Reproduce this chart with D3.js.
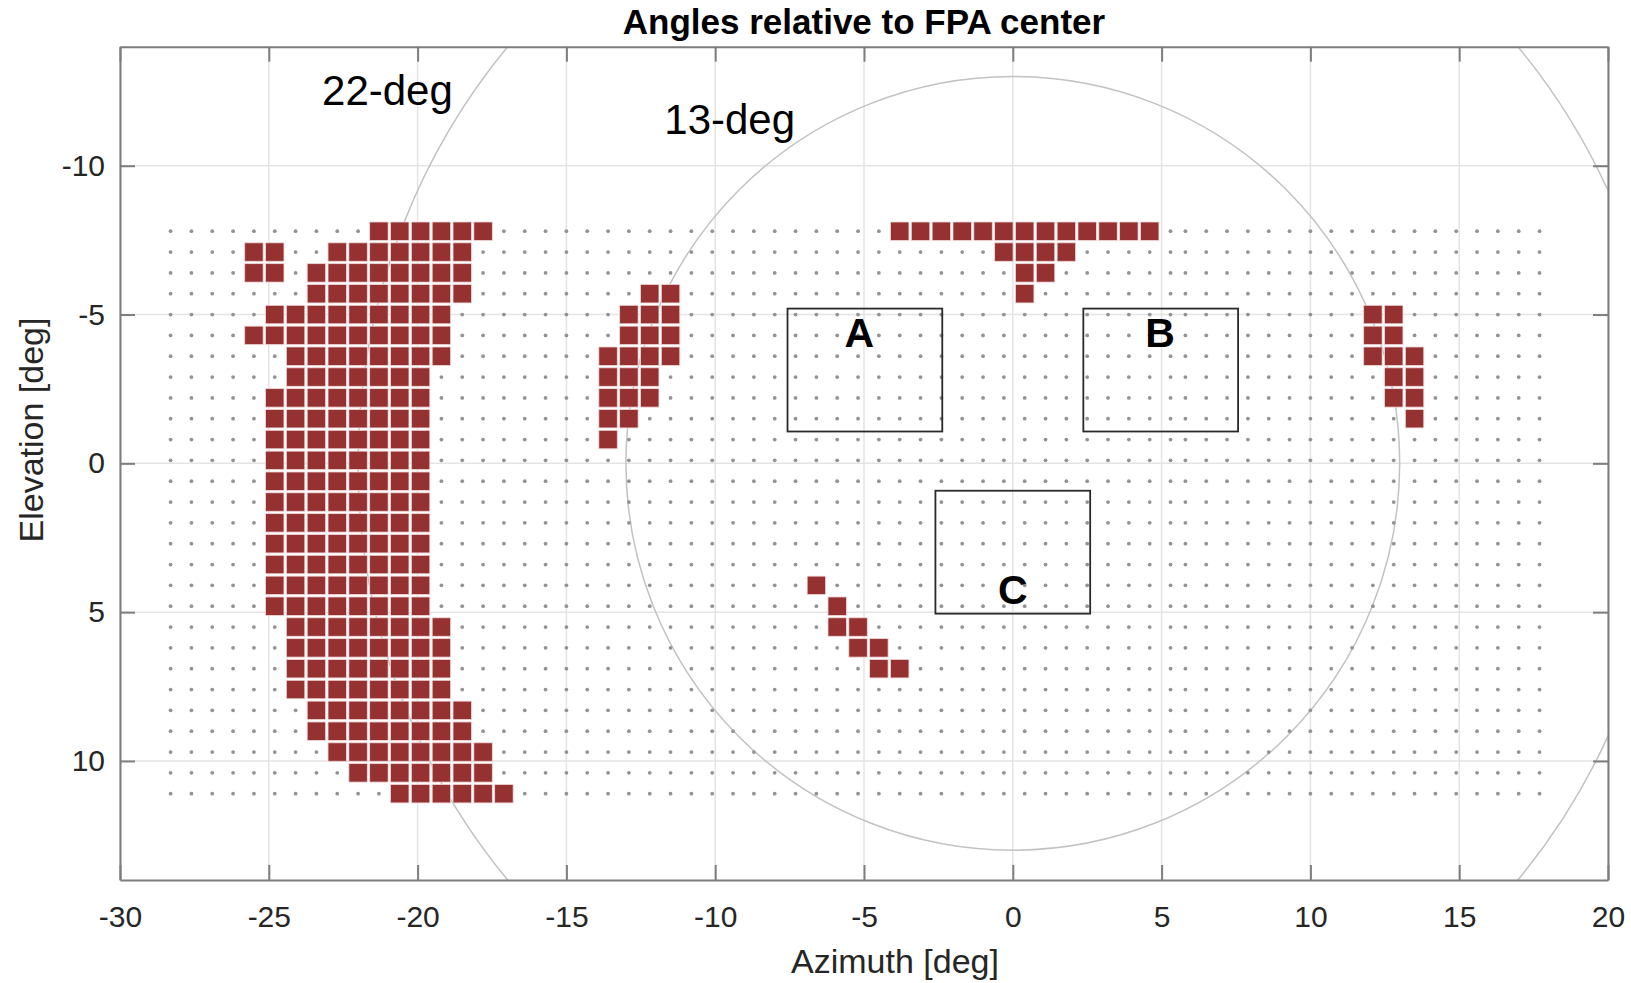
<!DOCTYPE html>
<html><head><meta charset="utf-8">
<script src="https://cdn.jsdelivr.net/npm/d3@7"></script>
<style>
html,body{margin:0;padding:0;background:#fff;}
svg{display:block;font-family:"Liberation Sans",Arial,Helvetica,sans-serif;}
</style></head><body>
<svg id="chart" width="1631" height="983"></svg>
<script>
// ---- data ----
const azimuthColumns = [
  -28.3,-27.6,-26.9,-26.2,-25.5,-24.8,-24.1,-23.4,-22.7,-22.0,-21.3,-20.6,-19.9,-19.2,-18.5,-17.8,
  -17.1,-16.4,-15.7,-15.0,-14.3,-13.6,-12.9,-12.2,-11.5,-10.8,-10.1,-9.4,-8.7,-8.0,-7.3,-6.6,
  -5.9,-5.2,-4.5,-3.8,-3.1,-2.4,-1.7,-1.0,-0.3,0.4,1.1,1.8,2.5,3.2,3.9,4.6,5.3,
  5.8,6.5,7.2,7.9,8.6,9.3,10.0,10.7,11.4,12.1,12.8,13.5,14.2,14.9,15.6,16.3,17.0,17.7
];
const elevationRows = [
  -7.8,-7.1,-6.4,-5.7,-5.0,-4.3,-3.6,-2.9,-2.2,-1.5,-0.8,-0.1,0.6,1.3,
  2.0,2.7,3.4,4.1,4.8,5.5,6.2,6.9,7.6,8.3,9.0,9.7,10.4,11.1
];
// hit runs: [row index, first column index, last column index]
const hitsWest = [
  [0,10,15],[1,4,5],[1,8,14],[2,4,5],[2,7,14],[3,7,14],[4,5,13],[5,4,13],[6,6,13],[7,6,12],
  [8,5,12],[9,5,12],[10,5,12],[11,5,12],[12,5,12],[13,5,12],[14,5,12],[15,5,12],[16,5,12],
  [17,5,12],[18,5,12],[19,6,13],[20,6,13],[21,6,13],[22,6,13],[23,7,14],[24,7,14],
  [25,8,15],[26,9,15],[27,11,16]
];
const hitsMidWest = [[3,23,24],[4,22,24],[5,22,24],[6,21,24],[7,21,23],[8,21,23],[9,21,22],[10,21,21]];
const hitsTop = [[0,35,47],[1,40,43],[2,41,42],[3,41,41]];
const hitsDiagonal = [[17,31,31],[18,32,32],[19,32,33],[20,33,34],[21,34,35]];
const hitsEast = [[4,58,59],[5,58,59],[6,58,60],[7,59,60],[8,59,60],[9,60,60]];

const xTicks = [-30,-25,-20,-15,-10,-5,0,5,10,15,20];
const yTicks = [-10,-5,0,5,10];

const circleRadii = [13, 22];
const circleLabels = ["13-deg", "22-deg"];
const circleLabelAz = [-11.71, -23.21];
const circleLabelEl = [-11.08, -12.04];

const boxNames = ["A", "B", "C"];
const boxAzMin = [-7.57, 2.37, -2.6];
const boxAzMax = [-2.37, 7.57, 2.6];
const boxElMin = [-5.2, -5.2, 0.92];
const boxElMax = [-1.07, -1.07, 5.05];
const boxLabelAz = [-5.16, 4.95, 0];
const boxLabelEl = [-3.91, -3.91, 4.71];

const titleText = "Angles relative to FPA center";
const xLabelText = "Azimuth [deg]";
const yLabelText = "Elevation [deg]";

// ---- layout ----
const L = 120, R = 1608, T = 46.7, B = 880;
const svg = d3.select("#chart");
const x = d3.scaleLinear().domain([-30, 20]).range([L, R]);
const y = d3.scaleLinear().domain([-14, 14]).range([T, B]);
const axisColor = "#7d7d7d", textColor = "#262626";
const cellSize = 0.62;
const plainFormat = d => String(d);

svg.append("defs").append("clipPath").attr("id", "plotclip")
  .append("rect").attr("x", L).attr("y", T).attr("width", R - L).attr("height", B - T);

// grid lines
const grid = svg.append("g");
grid.selectAll("line.gx").data(xTicks).join("line").attr("class","gx")
  .attr("x1", d => x(d)).attr("x2", d => x(d)).attr("y1", T).attr("y2", B)
  .attr("stroke", "#e4e4e4").attr("stroke-width", 1.5);
grid.selectAll("line.gy").data(yTicks).join("line").attr("class","gy")
  .attr("y1", d => y(d)).attr("y2", d => y(d)).attr("x1", L).attr("x2", R)
  .attr("stroke", "#e4e4e4").attr("stroke-width", 1.5);

// circles
const plot = svg.append("g").attr("clip-path", "url(#plotclip)");
plot.selectAll("circle.ring").data(circleRadii).join("circle").attr("class", "ring")
  .attr("cx", x(0)).attr("cy", y(0)).attr("r", d => x(d) - x(0))
  .attr("fill", "none").attr("stroke", "#c2c2c2").attr("stroke-width", 1.5);

// dots
const dots = [];
elevationRows.forEach(el => azimuthColumns.forEach(az => dots.push([az, el])));
plot.append("g").selectAll("circle").data(dots).join("circle")
  .attr("cx", d => x(d[0])).attr("cy", d => y(d[1])).attr("r", 1.9)
  .attr("fill", "#939393");

// hit squares
const cells = [];
[hitsWest, hitsMidWest, hitsTop, hitsDiagonal, hitsEast].forEach(group =>
  group.forEach(([r, c0, c1]) => {
    for (let c = c0; c <= c1; c++) cells.push([azimuthColumns[c], elevationRows[r]]);
  }));
const w = x(cellSize) - x(0);
plot.append("g").selectAll("rect").data(cells).join("rect")
  .attr("x", d => x(d[0]) - w / 2).attr("y", d => y(d[1]) - w / 2)
  .attr("width", w).attr("height", w)
  .attr("fill", "#953131").attr("stroke", "#f0d6d6").attr("stroke-width", 0.8);

// boxes
const boxIdx = d3.range(boxNames.length);
svg.append("g").selectAll("rect").data(boxIdx).join("rect")
  .attr("x", i => x(boxAzMin[i])).attr("y", i => y(boxElMin[i]))
  .attr("width", i => x(boxAzMax[i]) - x(boxAzMin[i]))
  .attr("height", i => y(boxElMax[i]) - y(boxElMin[i]))
  .attr("fill", "none").attr("stroke", "#2a2a2a").attr("stroke-width", 1.8);
svg.append("g").selectAll("text").data(boxIdx).join("text")
  .attr("x", i => x(boxLabelAz[i])).attr("y", i => y(boxLabelEl[i]))
  .attr("text-anchor", "middle").attr("font-weight", "bold").attr("font-size", 41)
  .attr("fill", "#000").text(i => boxNames[i]);

// circle labels
svg.append("g").selectAll("text").data(circleLabels).join("text")
  .attr("x", (d, i) => x(circleLabelAz[i])).attr("y", (d, i) => y(circleLabelEl[i]))
  .attr("font-size", 42).attr("fill", "#000").text(d => d);

// axes
function styleAxis(g) {
  g.select(".domain").attr("stroke", axisColor).attr("stroke-width", 2);
  g.selectAll(".tick line").attr("stroke", axisColor).attr("stroke-width", 2);
  g.selectAll(".tick text").attr("fill", textColor).attr("font-size", 30)
    .attr("font-family", "Liberation Sans, Arial, sans-serif");
}
svg.append("g").attr("transform", `translate(0,${B})`)
  .call(d3.axisBottom(x).tickValues(xTicks).tickSizeInner(-15).tickSizeOuter(0).tickPadding(26).tickFormat(plainFormat))
  .call(styleAxis);
svg.append("g").attr("transform", `translate(0,${T})`)
  .call(d3.axisTop(x).tickValues(xTicks).tickSizeInner(-15).tickSizeOuter(0).tickFormat(""))
  .call(styleAxis);
svg.append("g").attr("transform", `translate(${L},0)`)
  .call(d3.axisLeft(y).tickValues(yTicks).tickSizeInner(-15).tickSizeOuter(0).tickPadding(15).tickFormat(plainFormat))
  .call(styleAxis);
svg.append("g").attr("transform", `translate(${R},0)`)
  .call(d3.axisRight(y).tickValues(yTicks).tickSizeInner(-15).tickSizeOuter(0).tickFormat(""))
  .call(styleAxis);

// title & labels
svg.append("text").attr("x", (L + R) / 2).attr("y", 34).attr("text-anchor", "middle")
  .attr("font-weight", "bold").attr("font-size", 35).attr("fill", "#000").text(titleText);
svg.append("text").attr("x", 895).attr("y", 973).attr("text-anchor", "middle")
  .attr("font-size", 34).attr("fill", textColor).text(xLabelText);
svg.append("text").attr("transform", "translate(43,430) rotate(-90)").attr("text-anchor", "middle")
  .attr("font-size", 34).attr("fill", textColor).text(yLabelText);
</script>
</body></html>
